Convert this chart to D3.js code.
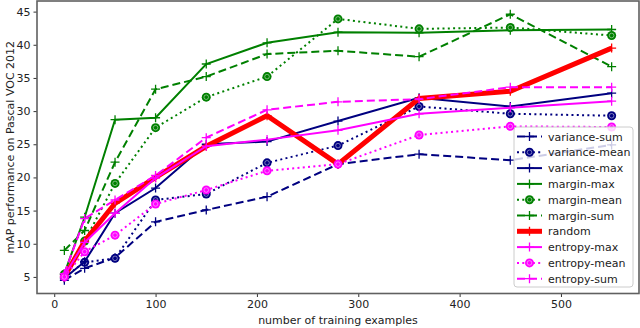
<!DOCTYPE html>
<html>
<head>
<meta charset="utf-8">
<title></title>
<script src="https://cdn.jsdelivr.net/npm/d3@7"></script>
<style>
  body { margin: 0; background: #fff; }
  text { font-family: "DejaVu Sans", sans-serif; }
</style>
</head>
<body>
<div id="chart"></div>
<script>
// training set sizes
var examples = [10, 30, 60, 100, 150, 210, 280, 360, 450, 550];

var varianceSum  = [4.5, 6.3, 7.9, 13.3, 15.1, 17.1, 22.0, 23.5, 22.6, 24.9];
var varianceMean = [5.0, 7.2, 7.8, 16.6, 17.5, 22.2, 24.8, 30.7, 29.6, 29.3];
var varianceMax  = [4.8, 7.3, 14.6, 18.4, 25.0, 25.4, 28.5, 32.0, 30.7, 32.7];
var marginMax    = [5.5, 14.0, 28.7, 29.0, 37.1, 40.3, 41.9, 41.8, 42.2, 42.3];
var marginMean   = [5.4, 10.4, 19.1, 27.5, 32.1, 35.2, 43.9, 42.4, 42.6, 41.4];
var marginSum    = [9.0, 12.0, 22.3, 33.3, 35.2, 38.6, 39.1, 38.2, 44.6, 36.7];
var random       = [5.0, 10.4, 16.1, 20.0, 24.7, 29.3, 22.0, 31.9, 33.0, 39.5];
var entropyMax   = [5.2, 10.2, 14.6, 19.9, 24.7, 25.7, 27.1, 29.6, 30.5, 31.5];
var entropyMean  = [5.0, 8.8, 11.3, 16.0, 18.1, 21.0, 22.0, 26.4, 27.7, 27.6];
var entropySum   = [5.5, 13.8, 16.6, 20.3, 26.0, 30.2, 31.4, 31.8, 33.6, 33.6];

var xTicks = [0, 100, 200, 300, 400, 500];
var yTicks = [5, 10, 15, 20, 25, 30, 35, 40, 45];

var series = [
  {name: "variance-sum",  values: varianceSum,  color: "#000080", dash: "8,4", marker: "plus", width: 2},
  {name: "variance-mean", values: varianceMean, color: "#000080", dash: "2,3.3", marker: "circle", width: 2},
  {name: "variance-max",  values: varianceMax,  color: "#000080", dash: null, marker: "plus", width: 2},
  {name: "margin-max",    values: marginMax,    color: "#008000", dash: null, marker: "plus", width: 2},
  {name: "margin-mean",   values: marginMean,   color: "#008000", dash: "2,3.3", marker: "circle", width: 2},
  {name: "margin-sum",    values: marginSum,    color: "#008000", dash: "8,4", marker: "plus", width: 2},
  {name: "random",        values: random,       color: "#ff0000", dash: null, marker: "plus", width: 5},
  {name: "entropy-max",   values: entropyMax,   color: "#ff00ff", dash: null, marker: "plus", width: 2},
  {name: "entropy-mean",  values: entropyMean,  color: "#ff00ff", dash: "2,3.3", marker: "circle", width: 2},
  {name: "entropy-sum",   values: entropySum,   color: "#ff00ff", dash: "8,4", marker: "plus", width: 2}
];

var W = 640, H = 328;
var pLeft = 37, pRight = 639, pTop = 1, pBottom = 293.5;

var svg = d3.select("#chart").append("svg")
  .attr("width", W).attr("height", H);

var x = d3.scaleLinear().domain([-17, 577]).range([pLeft, pRight]);
var y = d3.scaleLinear().domain([2.5, 46.6]).range([pBottom, pTop]);

svg.append("defs").append("clipPath").attr("id", "clip")
  .append("rect").attr("x", pLeft).attr("y", pTop)
  .attr("width", pRight - pLeft).attr("height", pBottom - pTop);

var plot = svg.append("g").attr("clip-path", "url(#clip)");

var line = d3.line().x(function(d){ return x(d[0]); }).y(function(d){ return y(d[1]); });

function drawMarker(g, kind, color, cx, cy) {
  if (kind == "plus") {
    g.append("path")
      .attr("d", "M" + (cx - 4.5) + "," + cy + "H" + (cx + 4.5) + "M" + cx + "," + (cy - 4.5) + "V" + (cy + 4.5))
      .attr("stroke", color).attr("stroke-width", 1.3).attr("fill", "none");
  } else {
    g.append("circle").attr("cx", cx).attr("cy", cy).attr("r", 4.5)
      .attr("fill", color);
    g.append("circle").attr("cx", cx).attr("cy", cy).attr("r", 2.3)
      .attr("fill", "none").attr("stroke", "#fff").attr("stroke-opacity", 0.45).attr("stroke-width", 1);
  }
}

series.forEach(function(s){
  var pts = examples.map(function(e, i){ return [e, s.values[i]]; });
  plot.append("path")
    .attr("d", line(pts))
    .attr("fill", "none")
    .attr("stroke", s.color)
    .attr("stroke-width", s.width)
    .attr("stroke-linejoin", "miter")
    .attr("stroke-dasharray", s.dash);
  var mg = plot.append("g");
  pts.forEach(function(p){ drawMarker(mg, s.marker, s.color, x(p[0]), y(p[1])); });
});

// axes
var xAxis = svg.append("g").attr("transform", "translate(0," + pBottom + ")")
  .call(d3.axisBottom(x).tickValues(xTicks).tickSize(3.5).tickSizeOuter(0).tickPadding(3));
var yAxis = svg.append("g").attr("transform", "translate(" + pLeft + ",0)")
  .call(d3.axisLeft(y).tickValues(yTicks).tickSize(3.5).tickSizeOuter(0).tickPadding(3));
[xAxis, yAxis].forEach(function(a){
  a.select(".domain").remove();
  a.selectAll("line").attr("stroke", "#333");
  a.selectAll("text").attr("font-size", 11).attr("fill", "#222")
    .style("font-family", "DejaVu Sans, sans-serif");
});

// frame
svg.append("rect").attr("x", pLeft).attr("y", pTop)
  .attr("width", pRight - pLeft).attr("height", pBottom - pTop)
  .attr("fill", "none").attr("stroke", "#606060").attr("stroke-width", 1.6);

svg.append("text").attr("x", (pLeft + pRight) / 2).attr("y", 324)
  .attr("text-anchor", "middle").attr("font-size", 11).attr("fill", "#222")
  .text("number of training examples");
svg.append("text")
  .attr("transform", "translate(14," + ((pTop + pBottom) / 2) + ") rotate(-90)")
  .attr("text-anchor", "middle").attr("font-size", 11).attr("fill", "#222")
  .text("mAP performance on Pascal VOC 2012");

// legend
var lg = svg.append("g");
lg.append("rect").attr("x", 514).attr("y", 127).attr("width", 119).attr("height", 160)
  .attr("rx", 3).attr("fill", "#fff").attr("fill-opacity", 0.8)
  .attr("stroke", "#ccc").attr("stroke-width", 1);
series.forEach(function(s, i){
  var ly = 136.5 + i * 15.8;
  lg.append("line").attr("x1", 517).attr("x2", 542).attr("y1", ly).attr("y2", ly)
    .attr("stroke", s.color).attr("stroke-width", s.width)
    .attr("stroke-dasharray", s.dash);
  drawMarker(lg, s.marker, s.color, 529.5, ly);
  lg.append("text").attr("x", 548).attr("y", ly + 4).attr("font-size", 11).attr("fill", "#222")
    .text(s.name);
});
</script>
</body>
</html>
